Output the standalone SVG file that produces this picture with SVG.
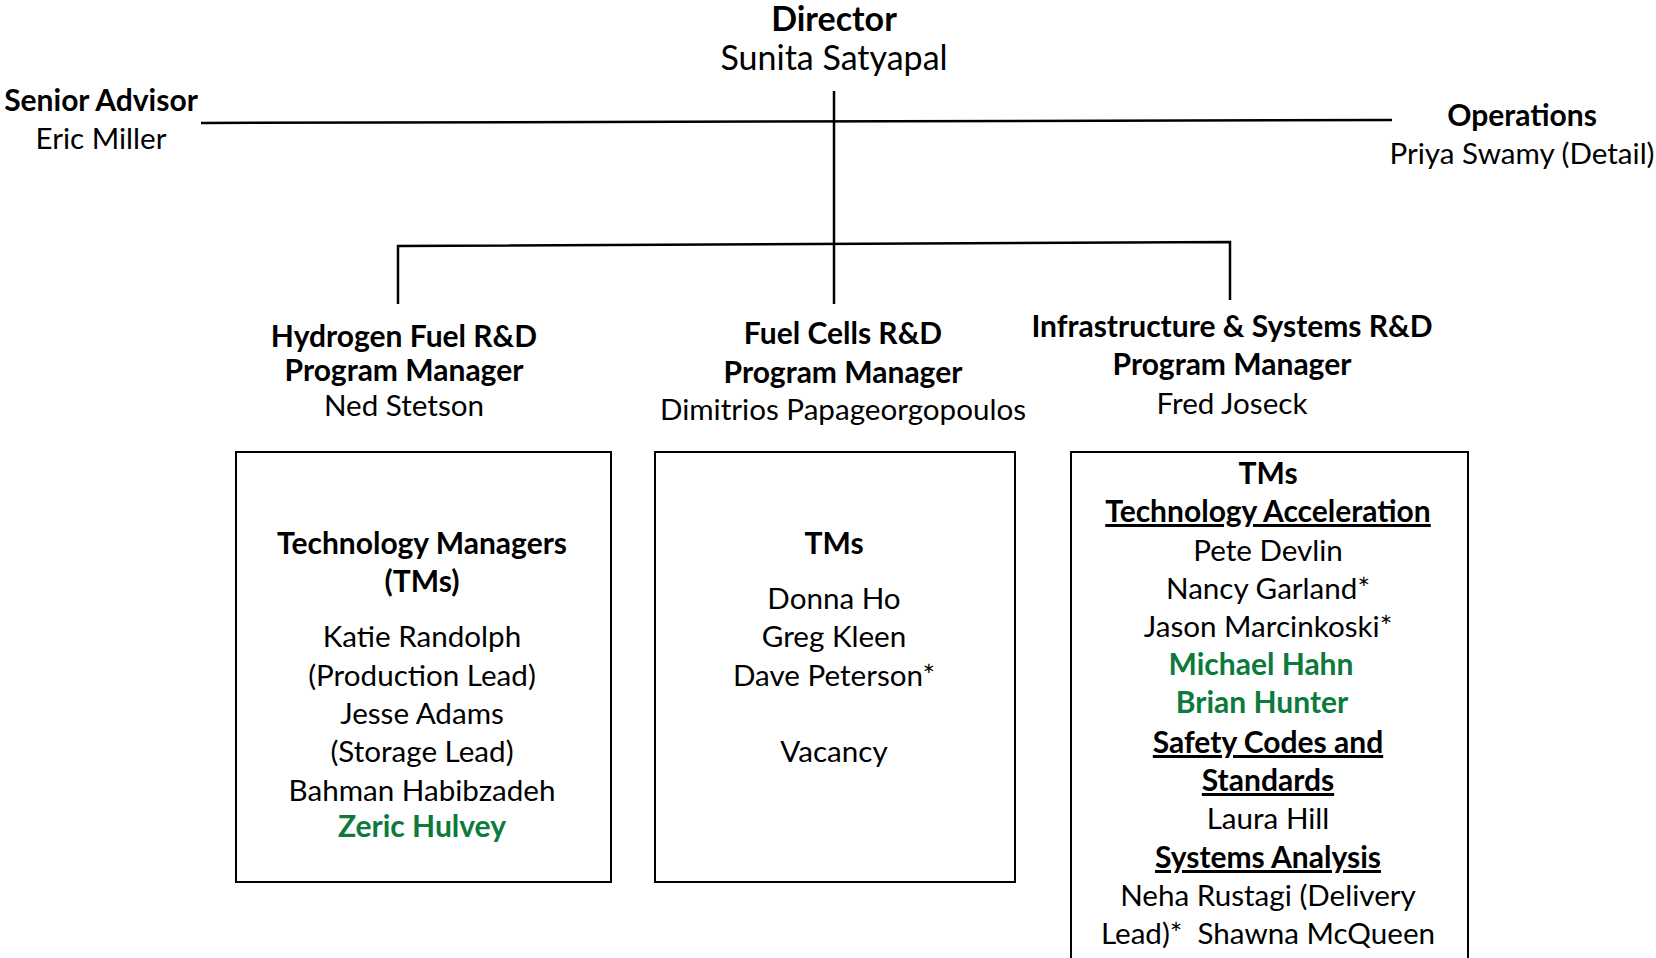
<svg xmlns="http://www.w3.org/2000/svg" width="1656" height="958" viewBox="0 0 1656 958">
  <style>
    text { font-family: Lato, "Open Sans", "Liberation Sans", sans-serif; font-size: 29.6px; fill: #000; text-anchor: middle; }
    .b { font-weight: bold; font-size: 30px; }
    .g { font-weight: bold; font-size: 30px; fill: #0b7a3b; }
    .u { font-weight: bold; font-size: 30px; text-decoration: underline; }
    .big { font-size: 34px; }
    .box { fill: #fff; stroke: #000; stroke-width: 2; }
    .ln { fill: none; stroke: #000; stroke-width: 2.5; }
  </style>
  <rect width="1656" height="958" fill="#fff"/>

  <!-- connectors -->
  <g id="connectors">
    <line class="ln" x1="834" y1="91" x2="834" y2="304"/>
    <line class="ln" x1="201" y1="123" x2="1392" y2="120" stroke-width="3"/>
    <polyline class="ln" points="398,304 398,246 1230,242 1230,300"/>
  </g>

  <g id="director">
    <text class="b big" x="834" y="31">Director</text>
    <text class="big" x="834" y="70">Sunita Satyapal</text>
  </g>

  <g id="senior-advisor">
    <text class="b" x="101" y="111">Senior Advisor</text>
    <text x="101" y="149">Eric Miller</text>
  </g>

  <g id="operations">
    <text class="b" x="1522" y="126">Operations</text>
    <text x="1522" y="164">Priya Swamy (Detail)</text>
  </g>

  <g id="hydrogen-pm">
    <text class="b" x="404" y="347">Hydrogen Fuel R&amp;D</text>
    <text class="b" x="404" y="381">Program Manager</text>
    <text x="404" y="416">Ned Stetson</text>
  </g>

  <g id="fuelcells-pm">
    <text class="b" x="843" y="344">Fuel Cells R&amp;D</text>
    <text class="b" x="843" y="383">Program Manager</text>
    <text x="843" y="420">Dimitrios Papageorgopoulos</text>
  </g>

  <g id="infrastructure-pm">
    <text class="b" x="1232" y="337">Infrastructure &amp; Systems R&amp;D</text>
    <text class="b" x="1232" y="375">Program Manager</text>
    <text x="1232" y="414">Fred Joseck</text>
  </g>

  <g id="hydrogen-tms">
    <rect class="box" x="236" y="452" width="375" height="430"/>
    <text class="b" x="422" y="554">Technology Managers</text>
    <text class="b" x="422" y="592">(TMs)</text>
    <text x="422" y="647">Katie Randolph</text>
    <text x="422" y="686">(Production Lead)</text>
    <text x="422" y="724">Jesse Adams</text>
    <text x="422" y="762">(Storage Lead)</text>
    <text x="422" y="801">Bahman Habibzadeh</text>
    <text class="g" x="422" y="837">Zeric Hulvey</text>
  </g>

  <g id="fuelcells-tms">
    <rect class="box" x="655" y="452" width="360" height="430"/>
    <text class="b" x="834" y="554">TMs</text>
    <text x="834" y="609">Donna Ho</text>
    <text x="834" y="647">Greg Kleen</text>
    <text x="834" y="686">Dave Peterson*</text>
    <text x="834" y="762">Vacancy</text>
  </g>

  <g id="infrastructure-tms">
    <rect class="box" x="1071" y="452" width="397" height="520"/>
    <text class="b" x="1268" y="484">TMs</text>
    <text class="u" x="1268" y="522">Technology Acceleration</text>
    <text x="1268" y="561">Pete Devlin</text>
    <text x="1268" y="599">Nancy Garland*</text>
    <text x="1268" y="637">Jason Marcinkoski*</text>
    <text class="g" x="1261" y="675">Michael Hahn</text>
    <text class="g" x="1262" y="713">Brian Hunter</text>
    <text class="u" x="1268" y="753">Safety Codes and</text>
    <text class="u" x="1268" y="791">Standards</text>
    <text x="1268" y="829">Laura Hill</text>
    <text class="u" x="1268" y="868">Systems Analysis</text>
    <text x="1268" y="906">Neha Rustagi (Delivery</text>
    <text x="1268" y="944" xml:space="preserve">Lead)*  Shawna McQueen</text>
  </g>
</svg>
